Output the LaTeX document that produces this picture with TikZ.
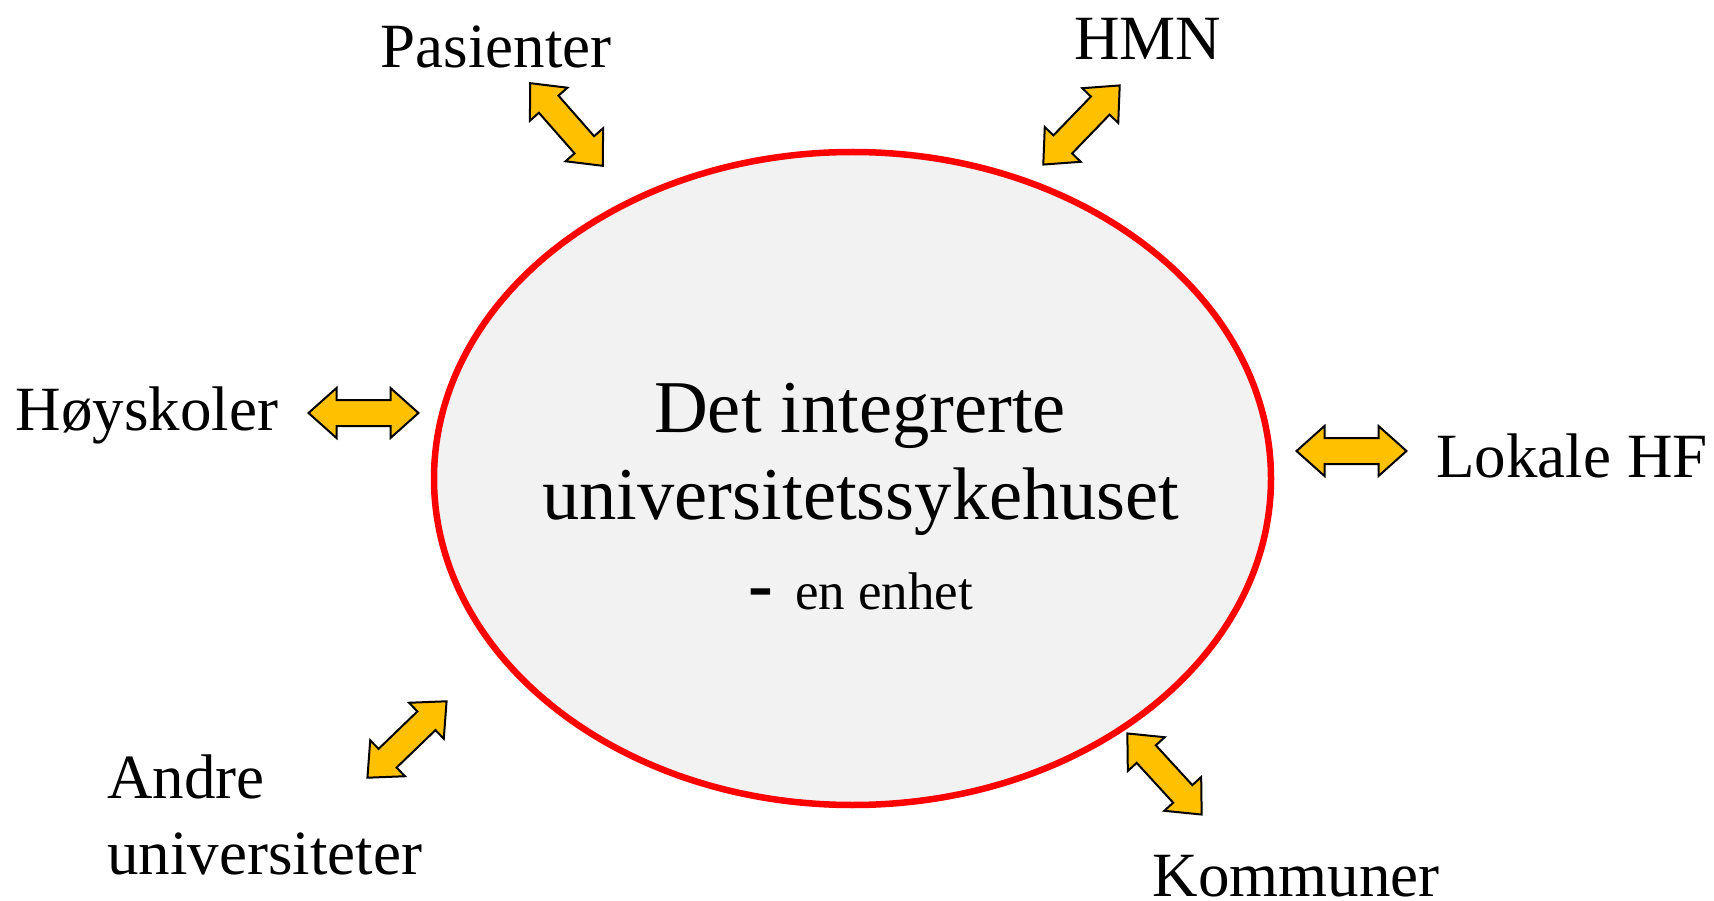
\documentclass[tikz,border=0pt]{standalone}
\usepackage{fontspec}
\setmainfont{Liberation Serif}
\definecolor{gold}{HTML}{FFC000}
\definecolor{ellfill}{HTML}{F2F2F2}
\tikzset{
  lbl/.style={anchor=base, inner sep=0pt, font=\fontsize{63}{76}\selectfont},
  big/.style={anchor=base, inner sep=0pt, font=\fontsize{74.5}{87}\selectfont},
  dbl/.pic={\filldraw[fill=gold, draw=black, line width=2pt, line join=miter]
      (-55,0) -- (-27,25) -- (-27,13) -- (27,13) -- (27,25) -- (55,0)
      -- (27,-25) -- (27,-13) -- (-27,-13) -- (-27,-25) -- cycle;},
}
\begin{document}
\begin{tikzpicture}[x=1pt, y=-1pt]
\path[use as bounding box] (0,0) rectangle (1714,901);
\draw[fill=ellfill, draw=red, line width=6.5pt] (852.5,478.5) ellipse [x radius=418.5, y radius=326.5];
\node[big] (t1) at (860,432) {Det integrerte};
\node[big] (t2) at (861,519) {universitetssykehuset};
\node[anchor=base west, inner sep=0pt, font=\fontsize{53}{64}\selectfont] (t3) at (748,609)
  {{\fontsize{74.5}{87}\selectfont\bfseries -}\hspace{22pt}en enhet};

\node[lbl] (pas) at (496,68) {Pasienter};
\node[lbl] (hmn) at (1148,60) {HMN};
\node[lbl] (hoy) at (147,430) {Høyskoler};
\node[lbl] (lok) at (1572,477) {Lokale HF};
\node[lbl, anchor=base west] (and1) at (107,798) {Andre};
\node[lbl, anchor=base west] (and2) at (107,874) {universiteter};
\node[lbl] (kom) at (1296,896) {Kommuner};

\pic[rotate=-48.7] at (566.5,124.5) {dbl};
\pic[rotate=46] at (1081.5,125) {dbl};
\pic at (363.5,413) {dbl};
\pic at (1351.5,451) {dbl};
\pic[rotate=44] at (407,739.5) {dbl};
\pic[rotate=-47.5] at (1164.5,774) {dbl};
\end{tikzpicture}
\end{document}
